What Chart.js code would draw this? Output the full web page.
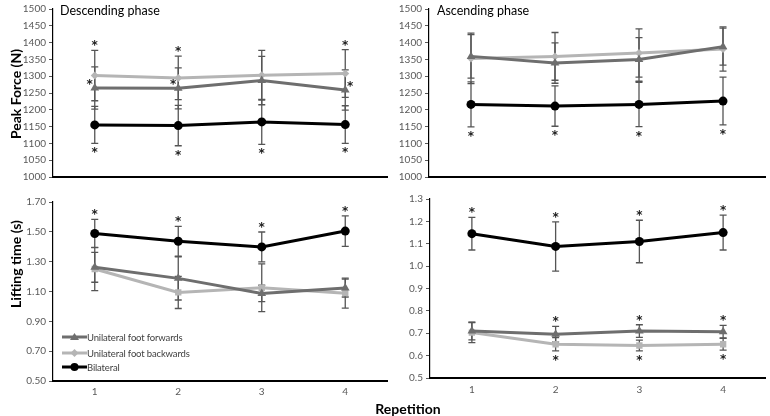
<!DOCTYPE html>
<html><head><meta charset="utf-8">
<script src="https://cdn.jsdelivr.net/npm/chart.js@4.4.0/dist/chart.umd.min.js"></script>
<style>
body{margin:0;background:#fff;width:770px;height:416px;position:relative;overflow:hidden;font-family:Lato,"Open Sans",sans-serif}
canvas{position:absolute}
.t{position:absolute;white-space:nowrap;color:#000}
.yt{position:absolute;white-space:nowrap;font-weight:bold;font-size:14px;transform:translate(-50%,-50%) rotate(-90deg)}
.lg{position:absolute;left:62px;height:12px;display:flex;align-items:center;font-size:9.5px;letter-spacing:-0.15px;color:#404040}
</style></head><body>
<canvas id="c1" width="392" height="186" style="left:0;top:0"></canvas>
<canvas id="c2" width="394" height="186" style="left:376px;top:0"></canvas>
<canvas id="c3" width="392" height="215" style="left:0;top:190px"></canvas>
<canvas id="c4" width="394" height="215" style="left:376px;top:190px"></canvas>
<div class="t" style="left:60px;top:3px;font-size:12.5px">Descending phase</div>
<div class="t" style="left:437px;top:3px;font-size:12.5px">Ascending phase</div>
<div class="yt" style="left:15px;top:94px">Peak Force (N)</div>
<div class="yt" style="left:15px;top:264px">Lifting time (s)</div>
<div class="t" style="left:408px;top:408px;transform:translate(-50%,-50%);font-weight:bold;font-size:14px">Repetition</div>
<div class="lg" style="top:331px"><svg width="25" height="10"><line x1="0" y1="5" x2="25" y2="5" stroke="#6e6e6e" stroke-width="3"/><polygon points="12.5,1 17,8 8,8" fill="#6e6e6e"/></svg><span id="lg0"></span></div>
<div class="lg" style="top:347px"><svg width="25" height="10"><line x1="0" y1="5" x2="25" y2="5" stroke="#b5b5b5" stroke-width="3"/><polygon points="12.5,1 16.5,5 12.5,9 8.5,5" fill="#b5b5b5"/></svg><span id="lg1"></span></div>
<div class="lg" style="top:361px"><svg width="25" height="10"><line x1="0" y1="5" x2="25" y2="5" stroke="#000" stroke-width="3"/><circle cx="12.5" cy="5" r="4" fill="#000"/></svg><span id="lg2"></span></div>
<script>
// ---- data ----
const categories = ['1', '2', '3', '4'];
const seriesNames = ['Unilateral foot forwards', 'Unilateral foot backwards', 'Bilateral'];

const forceTicks = [1000, 1050, 1100, 1150, 1200, 1250, 1300, 1350, 1400, 1450, 1500];
const descTimeTicks = [0.5, 0.7, 0.9, 1.1, 1.3, 1.5, 1.7];
const ascTimeTicks = [0.5, 0.6, 0.7, 0.8, 0.9, 1.0, 1.1, 1.2, 1.3];

// Descending phase – peak force (N)
const descForceFwd = [1265, 1264, 1287, 1259];
const descForceFwdSD = [63, 61, 72, 60];
const descForceBwd = [1302, 1295, 1303, 1308];
const descForceBwdSD = [75, 65, 74, 71];
const descForceBil = [1155, 1153, 1164, 1156];
const descForceBilSD = [55, 60, 67, 56];

// Ascending phase – peak force (N)
const ascForceFwd = [1359, 1339, 1350, 1388];
const ascForceFwdSD = [65, 60, 65, 55];
const ascForceBwd = [1353, 1359, 1369, 1381];
const ascForceBwdSD = [75, 71, 72, 66];
const ascForceBil = [1216, 1211, 1216, 1226];
const ascForceBilSD = [67, 60, 66, 71];

// Descending phase – lifting time (s)
const descTimeFwd = [1.262, 1.188, 1.087, 1.123];
const descTimeFwdSD = [0.10, 0.145, 0.055, 0.06];
const descTimeBwd = [1.251, 1.094, 1.125, 1.089];
const descTimeBwdSD = [0.145, 0.108, 0.16, 0.10];
const descTimeBil = [1.489, 1.437, 1.399, 1.505];
const descTimeBilSD = [0.095, 0.10, 0.10, 0.102];

// Ascending phase – lifting time (s)
const ascTimeFwd = [0.710, 0.696, 0.710, 0.707];
const ascTimeFwdSD = [0.04, 0.035, 0.028, 0.028];
const ascTimeBwd = [0.703, 0.651, 0.645, 0.651];
const ascTimeBwdSD = [0.045, 0.03, 0.024, 0.026];
const ascTimeBil = [1.145, 1.088, 1.110, 1.150];
const ascTimeBilSD = [0.073, 0.11, 0.095, 0.078];

// significance markers: [series (0 fwd, 1 bwd, 2 bil), repetition index, placement]
const descForceStars = [[1,0,'above'],[1,1,'above'],[1,3,'above'],[0,0,'left'],[0,1,'left'],[0,3,'right'],
                        [2,0,'below'],[2,1,'below'],[2,2,'below'],[2,3,'below']];
const ascForceStars = [[2,0,'below'],[2,1,'below'],[2,2,'below'],[2,3,'below']];
const descTimeStars = [[2,0,'above'],[2,1,'above'],[2,2,'above'],[2,3,'above']];
const ascTimeStars = [[2,0,'above'],[2,1,'above'],[2,2,'above'],[2,3,'above'],
                      [0,1,'above'],[0,2,'above'],[0,3,'above'],
                      [1,1,'below'],[1,2,'below'],[1,3,'below']];

// ---- rendering ----
seriesNames.forEach((n, i) => document.getElementById('lg' + i).textContent = n);

const errStarPlugin = {
  id: 'errStar',
  beforeDatasetsDraw(chart) {
    const ctx = chart.ctx, ys = chart.scales.y;
    ctx.save();
    ctx.strokeStyle = '#555';
    ctx.lineWidth = 1.3;
    chart.data.datasets.forEach((ds, i) => {
      const meta = chart.getDatasetMeta(i);
      ds.sd.forEach((sd, j) => {
        const x = meta.data[j].x;
        const top = ys.getPixelForValue(ds.data[j] + sd);
        const bot = ys.getPixelForValue(ds.data[j] - sd);
        ctx.beginPath();
        ctx.moveTo(x, top); ctx.lineTo(x, bot);
        ctx.moveTo(x - 3.5, top); ctx.lineTo(x + 3.5, top);
        ctx.moveTo(x - 3.5, bot); ctx.lineTo(x + 3.5, bot);
        ctx.stroke();
      });
    });
    ctx.restore();
  },
  afterDatasetsDraw(chart, args, opts) {
    const ctx = chart.ctx, ys = chart.scales.y;
    ctx.save();
    ctx.font = 'bold 12px "DejaVu Sans"';
    ctx.fillStyle = '#222';
    ctx.textAlign = 'center';
    ctx.textBaseline = 'alphabetic';
    const m = ctx.measureText('*');
    const dy = (m.actualBoundingBoxAscent - m.actualBoundingBoxDescent) / 2;
    (opts.stars || []).forEach(s => {
      const [si, idx, pos] = s;
      const ds = chart.data.datasets[si];
      const pt = chart.getDatasetMeta(si).data[idx];
      let x = pt.x, y;
      if (pos === 'above') y = ys.getPixelForValue(ds.data[idx] + ds.sd[idx]) - 7;
      else if (pos === 'below') y = ys.getPixelForValue(ds.data[idx] - ds.sd[idx]) + 7;
      else if (pos === 'left') { x -= 5; y = pt.y - 6; }
      else { x += 5; y = pt.y - 6; }
      ctx.fillText('*', x, y + dy);
    });
    ctx.restore();
  }
};

Chart.defaults.font.family = 'Lato, "Open Sans", sans-serif';
Chart.defaults.color = '#595959';

function buildChart(id, o) {
  return new Chart(document.getElementById(id), {
    type: 'line',
    data: {
      labels: categories,
      datasets: [
        { label: seriesNames[0], data: o.fwd, sd: o.fwdSD, borderColor: '#6e6e6e', backgroundColor: '#6e6e6e',
          borderWidth: 3, pointStyle: 'triangle', pointRadius: 5, pointBorderWidth: 0, order: 1 },
        { label: seriesNames[1], data: o.bwd, sd: o.bwdSD, borderColor: '#b5b5b5', backgroundColor: '#b5b5b5',
          borderWidth: 3, pointStyle: o.bwdMarker, pointRadius: o.bwdMarker === 'rect' ? 4.5 : 4, pointBorderWidth: 0, order: 2 },
        { label: seriesNames[2], data: o.bil, sd: o.bilSD, borderColor: '#000', backgroundColor: '#000',
          borderWidth: 3, pointStyle: 'circle', pointRadius: 4.5, pointBorderWidth: 0, order: 0 }
      ]
    },
    options: {
      responsive: false,
      animation: false,
      layout: { padding: o.pad },
      plugins: { legend: { display: false }, tooltip: { enabled: false }, errStar: { stars: o.stars } },
      scales: {
        x: {
          type: 'category', offset: true,
          grid: { display: false, drawTicks: false },
          border: { display: true, color: '#000', width: 2 },
          ticks: { display: o.xTicks, padding: o.xPad, font: { size: 10 }, color: '#595959', maxRotation: 0 },
          afterFit: s => { s.height = o.xH; }
        },
        y: {
          min: o.ticks[0], max: o.ticks[o.ticks.length - 1],
          afterBuildTicks: s => { s.ticks = o.ticks.map(v => ({ value: v })); },
          ticks: { callback: o.fmt, padding: 3, font: { size: 10 }, color: '#595959' },
          grid: { display: true, drawOnChartArea: false, drawTicks: true, tickLength: 4, color: '#595959' },
          border: { display: true, color: '#000', width: 1.2 },
          afterFit: s => { s.width = o.yW; }
        }
      }
    },
    plugins: [errStarPlugin]
  });
}

buildChart('c1', { fwd: descForceFwd, fwdSD: descForceFwdSD, bwd: descForceBwd, bwdSD: descForceBwdSD,
  bil: descForceBil, bilSD: descForceBilSD, bwdMarker: 'rectRot', stars: descForceStars,
  ticks: forceTicks, fmt: v => String(v), pad: { top: 4, left: 0, right: 0, bottom: 0 },
  xTicks: false, xPad: 0, xH: 5, yW: 53 });
buildChart('c2', { fwd: ascForceFwd, fwdSD: ascForceFwdSD, bwd: ascForceBwd, bwdSD: ascForceBwdSD,
  bil: ascForceBil, bilSD: ascForceBilSD, bwdMarker: 'rectRot', stars: ascForceStars,
  ticks: forceTicks, fmt: v => String(v), pad: { top: 4, left: 0, right: 4, bottom: 0 },
  xTicks: false, xPad: 0, xH: 5, yW: 53 });
buildChart('c3', { fwd: descTimeFwd, fwdSD: descTimeFwdSD, bwd: descTimeBwd, bwdSD: descTimeBwdSD,
  bil: descTimeBil, bilSD: descTimeBilSD, bwdMarker: 'rect', stars: descTimeStars,
  ticks: descTimeTicks, fmt: v => Number(v).toFixed(2), pad: { top: 12, left: 0, right: 0, bottom: 0 },
  xTicks: true, xPad: 5, xH: 24, yW: 53 });
buildChart('c4', { fwd: ascTimeFwd, fwdSD: ascTimeFwdSD, bwd: ascTimeBwd, bwdSD: ascTimeBwdSD,
  bil: ascTimeBil, bilSD: ascTimeBilSD, bwdMarker: 'rect', stars: ascTimeStars,
  ticks: ascTimeTicks, fmt: v => Number(v).toFixed(1), pad: { top: 9, left: 0, right: 1, bottom: 0 },
  xTicks: true, xPad: 6, xH: 27, yW: 54 });
</script>
</body></html>
